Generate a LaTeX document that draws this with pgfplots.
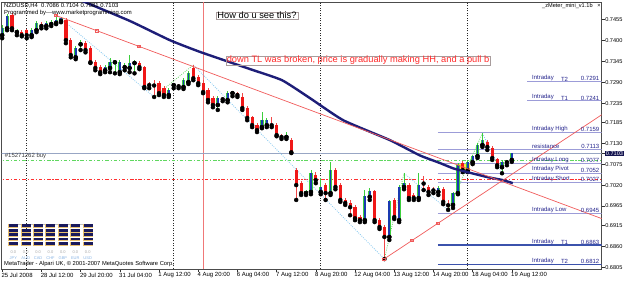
\documentclass[border=0pt]{standalone}
\usepackage{pgfplots}
\pgfplotsset{compat=1.18}
\usepackage{pgfplotstable}
\usepackage{fontspec}
\setmainfont{Liberation Sans}

\definecolor{mtnavy}{HTML}{1E1E78}
\definecolor{widgetnavy}{HTML}{1A1A5C}
\definecolor{widgetedge}{HTML}{E8C070}
\definecolor{bullbody}{HTML}{1A3AB0}
\definecolor{bullwick}{HTML}{3CCF3C}
\definecolor{bearbody}{HTML}{F01818}
\definecolor{bearwick}{HTML}{F04848}
\definecolor{lvl}{HTML}{9C9CD8}
\definecolor{lvldark}{HTML}{3B52AC}
\definecolor{lvltext}{HTML}{24248C}
\definecolor{bidline}{HTML}{98A6C4}
\definecolor{ordergreen}{HTML}{60D860}
\definecolor{stopred}{HTML}{FF3030}
\definecolor{zzblue}{HTML}{8CCBF0}
\definecolor{zzgreen}{HTML}{70D870}
\definecolor{tlred}{HTML}{F05A5A}
\definecolor{vred}{HTML}{F07878}
\definecolor{boxgray}{HTML}{A89C9C}
\definecolor{hlbg}{HTML}{141450}
\definecolor{txtred}{HTML}{FF2A2A}
\definecolor{rectyellow}{HTML}{FFE640}
\definecolor{codeblue}{HTML}{88B4E4}

% bullish candles: bar index, open, high, low, close
\pgfplotstableread{
i o h l c
0 0.7413 0.7439 0.7405 0.7431
1 0.7431 0.7468 0.7426 0.7463
3 0.7421 0.7429 0.7413 0.7422
6 0.7413 0.7431 0.7408 0.7426
7 0.7426 0.7450 0.7421 0.7445
9 0.7437 0.7450 0.7431 0.7445
10 0.7442 0.7452 0.7437 0.7447
11 0.7445 0.7466 0.7442 0.7452
12 0.7450 0.7460 0.7447 0.7458
15 0.7355 0.7384 0.7350 0.7379
16 0.7389 0.7400 0.7374 0.7390
21 0.7321 0.7335 0.7316 0.7329
22 0.7327 0.7353 0.7316 0.7342
23 0.7342 0.7348 0.7313 0.7343
24 0.7316 0.7348 0.7311 0.7342
25 0.7329 0.7340 0.7321 0.7330
26 0.7327 0.7361 0.7316 0.7340
27 0.7340 0.7348 0.7313 0.7341
34 0.7256 0.7274 0.7251 0.7269
35 0.7282 0.7287 0.7274 0.7283
37 0.7277 0.7300 0.7272 0.7295
38 0.7290 0.7319 0.7285 0.7313
44 0.7230 0.7253 0.7217 0.7248
46 0.7243 0.7266 0.7237 0.7261
47 0.7261 0.7266 0.7253 0.7262
53 0.7172 0.7211 0.7169 0.7190
54 0.7177 0.7196 0.7172 0.7190
58 0.7146 0.7159 0.7141 0.7147
62 0.6999 0.7007 0.6994 0.7002
63 0.7002 0.7059 0.6996 0.7051
65 0.7002 0.7038 0.6996 0.7015
67 0.6999 0.7080 0.6994 0.7059
74 0.6928 0.7007 0.6923 0.6989
75 0.6989 0.7012 0.6981 0.7002
79 0.6884 0.6981 0.6876 0.6976
81 0.6928 0.7020 0.6923 0.7015
82 0.7015 0.7051 0.7009 0.7025
85 0.6986 0.7051 0.6981 0.7020
89 0.7002 0.7017 0.6994 0.7012
92 0.6968 0.7002 0.6960 0.6999
93 0.6999 0.7078 0.6996 0.7072
95 0.7059 0.7086 0.7054 0.7080
96 0.7080 0.7099 0.7075 0.7096
97 0.7096 0.7130 0.7091 0.7125
98 0.7125 0.7156 0.7120 0.7138
102 0.7067 0.7086 0.7051 0.7080
104 0.7086 0.7104 0.7081 0.7103
}\bull

% bearish candles
\pgfplotstableread{
i o h l c
2 0.7466 0.7471 0.7426 0.7431
4 0.7421 0.7426 0.7410 0.7413
5 0.7426 0.7429 0.7405 0.7413
8 0.7442 0.7447 0.7431 0.7437
13 0.7452 0.7458 0.7392 0.7400
14 0.7400 0.7405 0.7355 0.7361
17 0.7392 0.7397 0.7368 0.7374
18 0.7379 0.7384 0.7340 0.7342
19 0.7342 0.7348 0.7321 0.7327
20 0.7329 0.7335 0.7311 0.7316
28 0.7340 0.7345 0.7324 0.7329
29 0.7329 0.7332 0.7274 0.7277
30 0.7283 0.7290 0.7274 0.7282
31 0.7282 0.7295 0.7251 0.7281
32 0.7287 0.7292 0.7256 0.7261
33 0.7274 0.7279 0.7251 0.7256
36 0.7280 0.7285 0.7274 0.7279
39 0.7327 0.7335 0.7295 0.7300
40 0.7303 0.7308 0.7282 0.7287
41 0.7287 0.7295 0.7261 0.7264
42 0.7269 0.7274 0.7237 0.7243
43 0.7248 0.7253 0.7224 0.7230
45 0.7246 0.7251 0.7240 0.7245
48 0.7261 0.7264 0.7251 0.7256
49 0.7251 0.7261 0.7217 0.7222
50 0.7222 0.7227 0.7190 0.7196
51 0.7196 0.7201 0.7172 0.7177
52 0.7177 0.7183 0.7159 0.7164
55 0.7178 0.7198 0.7172 0.7177
56 0.7177 0.7183 0.7148 0.7151
57 0.7147 0.7154 0.7141 0.7146
59 0.7138 0.7143 0.7104 0.7106
60 0.7059 0.7065 0.6981 0.7020
61 0.7025 0.7030 0.6994 0.6999
64 0.7046 0.7054 0.7025 0.7033
66 0.7020 0.7025 0.6981 0.6999
68 0.7059 0.7065 0.7009 0.7015
69 0.7020 0.7025 0.6976 0.6981
70 0.6981 0.6986 0.6968 0.6973
71 0.6973 0.6981 0.6941 0.6962
72 0.6962 0.6968 0.6928 0.6933
73 0.6936 0.6941 0.6923 0.6928
76 0.7002 0.7007 0.6923 0.6928
77 0.6928 0.6933 0.6905 0.6910
78 0.6910 0.6915 0.6826 0.6884
80 0.6981 0.6986 0.6931 0.6936
83 0.7020 0.7025 0.6981 0.6986
84 0.6994 0.6999 0.6981 0.6986
86 0.7026 0.7044 0.7007 0.7024
87 0.7015 0.7020 0.6994 0.7002
88 0.7008 0.7015 0.6999 0.7006
90 0.7009 0.7015 0.6970 0.6976
91 0.6969 0.6981 0.6955 0.6967
94 0.7078 0.7083 0.7054 0.7059
99 0.7133 0.7138 0.7112 0.7120
100 0.7117 0.7122 0.7086 0.7091
101 0.7086 0.7091 0.7067 0.7072
103 0.7081 0.7086 0.7072 0.7080
}\bear

\tikzset{lbl/.style={font=\fontsize{6}{7}\selectfont, text=lvltext, inner sep=0.5pt}}

\begin{document}
\begin{tikzpicture}
\begin{axis}[
  scale only axis, width=600pt, height=267pt,
  xmin=-0.143, xmax=122.3, ymin=0.6800, ymax=0.7500,
  clip mode=individual,
  unbounded coords=jump,
  axis line style={draw=black!70, line width=0.8pt},
  xtick pos=left, ytick pos=right, yticklabel pos=right,
  tick align=outside, major tick length=3pt,
  tick style={draw=black!80, line width=0.6pt},
  minor tick num=0,
  xtick={0,8,16,24,32,40,48,56,64,72,80,88,96,104},
  xticklabels={25 Jul 2008,28 Jul 12:00,29 Jul 20:00,31 Jul 04:00,1 Aug 12:00,4 Aug 20:00,6 Aug 04:00,7 Aug 12:00,8 Aug 20:00,12 Aug 04:00,13 Aug 12:00,14 Aug 20:00,18 Aug 04:00,19 Aug 12:00},
  x tick label style={anchor=north west, inner sep=0pt, xshift=-0.8pt, yshift=-0.5pt, font=\fontsize{6}{7}\selectfont},
  ytick={0.7455,0.7400,0.7345,0.7290,0.7235,0.7185,0.7130,0.7075,0.7020,0.6965,0.6915,0.6860,0.6805},
  yticklabels={0.7455,0.7400,0.7345,0.7290,0.7235,0.7185,0.7130,0.7075,0.7020,0.6965,0.6915,0.6860,0.6805},
  y tick label style={anchor=west, inner sep=0.6pt, font=\fontsize{5.6}{6.5}\selectfont},
  extra y ticks={0.7103}, extra y tick labels={0.7103},
  extra y tick style={y tick label style={fill=hlbg, text=white, inner xsep=1.2pt, inner ysep=0.8pt}},
]
% yellow rectangle object
\addplot[fill=rectyellow, draw=none, forget plot] coordinates {(92.8,0.7054) (95.4,0.7054) (95.4,0.7078) (92.8,0.7078)} -- cycle;

% weekly separators
\addplot[draw=black!85, line width=0.6pt, dash pattern=on 1.2pt off 1.3pt, forget plot] coordinates {(5,0.68) (5,0.75) (5,nan) (35,0.68) (35,0.75) (35,nan) (65,0.68) (65,0.75) (65,nan) (95,0.68) (95,0.75)};
% red vertical line
\addplot[draw=vred, line width=0.8pt, forget plot] coordinates {(41,0.68) (41,0.75)};

% bid line, order line, stop line
\addplot[draw=bidline, line width=0.7pt, forget plot] coordinates {(-1,0.7103) (123,0.7103)};
\addplot[draw=ordergreen, line width=0.9pt, dash pattern=on 3.5pt off 1.8pt on 1.2pt off 1.8pt, forget plot] coordinates {(-1,0.7085) (123,0.7085)};
\addplot[draw=stopred, line width=0.9pt, dash pattern=on 3.5pt off 1.8pt on 1.2pt off 1.8pt, forget plot] coordinates {(-1,0.7034) (123,0.7034)};

% intraday levels
\addplot[draw=lvl, line width=0.7pt, forget plot] coordinates {
(107.1,0.7291) (123,0.7291) (0,nan)
(107.1,0.7241) (123,0.7241) (0,nan)
(88.9,0.7159) (123,0.7159) (0,nan)
(88.9,0.7113) (123,0.7113) (0,nan)
(88.9,0.7077) (123,0.7077) (0,nan)
(88.9,0.7052) (123,0.7052) (0,nan)
(88.9,0.7027) (123,0.7027) (0,nan)
(88.9,0.6945) (123,0.6945)};
\addplot[draw=lvldark, line width=1.2pt, forget plot] coordinates {
(88.9,0.6863) (123,0.6863) (0,nan)
(88.9,0.6812) (123,0.6812)};

% zigzag legs
\addplot[draw=zzblue, line width=0.8pt, dash pattern=on 0.9pt off 1.3pt, forget plot] coordinates {(11.2,0.7465) (31,0.7251) (31,nan) (39,0.7335) (78,0.6826) (78,nan) (82,0.7051) (91,0.6955) (91,nan) (98,0.7156) (102,0.7051)};
\addplot[draw=zzgreen, line width=0.8pt, dash pattern=on 0.9pt off 1.3pt, forget plot] coordinates {(31,0.7251) (39,0.7335) (39,nan) (78,0.6826) (82,0.7051) (82,nan) (91,0.6955) (98,0.7156)};

% candles: wicks
\addplot[only marks, mark=none, forget plot, error bars/.cd, y dir=plus, y explicit, error mark=none,
  error bar style={draw=bullwick, line width=0.8pt}]
  table[x=i, y=l, y error plus expr=\thisrow{h}-\thisrow{l}] {\bull};
\addplot[only marks, mark=none, forget plot, error bars/.cd, y dir=plus, y explicit, error mark=none,
  error bar style={draw=bearwick, line width=0.8pt}]
  table[x=i, y=l, y error plus expr=\thisrow{h}-\thisrow{l}] {\bear};
% candles: bodies
\addplot[only marks, mark=none, forget plot, error bars/.cd, y dir=plus, y explicit, error mark=none,
  error bar style={draw=bullwick, line width=3.2pt}]
  table[x=i, y=o, y error plus expr=\thisrow{c}-\thisrow{o}+0.00012] {\bull};
\addplot[only marks, mark=none, forget plot, error bars/.cd, y dir=plus, y explicit, error mark=none,
  error bar style={draw=bullbody, line width=1.8pt}]
  table[x=i, y=o, y error plus expr=\thisrow{c}-\thisrow{o}+0.00012] {\bull};
\addplot[only marks, mark=none, forget plot, error bars/.cd, y dir=plus, y explicit, error mark=none,
  error bar style={draw=bearbody, line width=3.2pt}]
  table[x=i, y=c, y error plus expr=\thisrow{o}-\thisrow{c}+0.00012] {\bear};

% moving average
\addplot[draw=mtnavy, line width=2.4pt, smooth, tension=0.3, forget plot] coordinates {
(12.0,0.7525) (15.9,0.7505) (26.1,0.7450) (34.2,0.7400) (40.4,0.7369) (50.6,0.7324) (57.1,0.7295)
(62.8,0.7248) (69.6,0.7190) (79.1,0.7138) (85.2,0.7098) (89.3,0.7078) (92.0,0.7064)
(94.9,0.7054) (99.0,0.7041) (102.2,0.7033) (104.2,0.7025)};

% trend lines
\addplot[draw=tlred, line width=0.7pt, forget plot] coordinates {(10.9,0.7465) (123,0.6929)};
\addplot[draw=tlred, line width=0.7pt, forget plot] coordinates {(77.9,0.6826) (123,0.7210)};
\addplot[draw=tlred, only marks, mark=square, mark size=1.2pt, mark options={draw=tlred, fill=white, line width=0.5pt}, forget plot]
  coordinates {(10.9,0.7465) (19.3,0.7425) (27.9,0.7384) (77.9,0.6826) (83.6,0.6875) (88.9,0.6920)};

% level captions
\node[lbl, anchor=south west] at (108,0.7291) {Intraday};
\node[lbl, anchor=south west] at (113.9,0.7291) {T2};
\node[lbl, anchor=south east] at (122,0.7291) {0.7291};
\node[lbl, anchor=south west] at (108,0.7241) {Intraday};
\node[lbl, anchor=south west] at (113.9,0.7241) {T1};
\node[lbl, anchor=south east] at (122,0.7241) {0.7241};
\node[lbl, anchor=south west] at (108,0.7159) {Intraday High};
\node[lbl, anchor=south east] at (122,0.7159) {0.7159};
\node[lbl, anchor=south west] at (108,0.7113) {resistance};
\node[lbl, anchor=south east] at (122,0.7113) {0.7113};
\node[lbl, anchor=south west] at (108,0.7077) {Intraday Long};
\node[lbl, anchor=south east] at (122,0.7077) {0.7077};
\node[lbl, anchor=south west] at (108,0.7052) {Intraday Pivot};
\node[lbl, anchor=south east] at (122,0.7052) {0.7052};
\node[lbl, anchor=south west] at (108,0.7027) {Intraday Short};
\node[lbl, anchor=south east] at (122,0.7027) {0.7027};
\node[lbl, anchor=south west] at (108,0.6945) {Intraday Low};
\node[lbl, anchor=south east] at (122,0.6945) {0.6945};
\node[lbl, anchor=south west] at (108,0.6863) {Intraday};
\node[lbl, anchor=south west] at (113.9,0.6863) {T1};
\node[lbl, anchor=south east] at (122,0.6863) {0.6863};
\node[lbl, anchor=south west] at (108,0.6812) {Intraday};
\node[lbl, anchor=south west] at (113.9,0.6812) {T2};
\node[lbl, anchor=south east] at (122,0.6812) {0.6812};
\node[font=\fontsize{6}{7}\selectfont, text=black!75, inner sep=0.5pt, anchor=south west] at (0.4,0.7086) {\#15271262 buy};
\end{axis}

% chart window texts (picture coordinates, points)
\node[anchor=west, inner sep=0, font=\fontsize{5.9}{7}\selectfont] at (2.5pt,263.5pt) {NZDUSD,H4\ \ 0.7086 0.7104 0.7081 0.7103};
\node[anchor=west, inner sep=0, font=\fontsize{5.9}{7}\selectfont] at (2.5pt,256pt) {Programmed by-{}-{}-www.marketprogramming.com};
\node[anchor=west, inner sep=0, font=\fontsize{5.6}{7}\selectfont] at (540.5pt,263pt) {\_zMeter\_mini\_v1.1b\ \ \ ×};
\node[anchor=west, inner sep=0, font=\fontsize{5.8}{7}\selectfont] at (2.5pt,4.8pt) {MetaTrader - Alpari UK, © 2001-2007 MetaQuotes Software Corp.};
\node[draw=boxgray, line width=0.5pt, inner xsep=1.5pt, inner ysep=0.3pt, font=\fontsize{9.3}{10}\selectfont] at (255.5pt,253.5pt) {How do u see this?};
\node[draw=boxgray, line width=0.5pt, inner xsep=0.5pt, inner ysep=0.3pt, anchor=west, text=txtred, font=\fontsize{9.3}{10}\selectfont] at (224.5pt,208.5pt) {down TL was broken, price is gradually making HH, and a pull b};

% currency strength widget
\draw[black!25, line width=0.4pt] (6.5pt,45pt) -- (91.8pt,45pt);
\foreach \cx/\cc in {6.8/JPY,19.2/AUD,31.6/CAD,44.0/CHF,56.4/GBP,68.8/EUR,81.2/USD} {
  \foreach \ry in {24.0,28.4,32.8,37.2,41.6} {
    \fill[widgetnavy] (\cx pt,\ry pt) rectangle ++(10pt,3.0pt);
    \draw[widgetedge, line width=0.25pt] (\cx pt,\ry pt+3pt) -- (\cx pt,\ry pt) -- ++(10pt,0pt);
  }
  \node[font=\fontsize{4}{4}\selectfont, text=black!35, inner sep=0] at (\cx pt+5pt,17.3pt) {0.0};
  \node[font=\fontsize{4}{4}\selectfont, text=codeblue, inner sep=0] at (\cx pt+5pt,11pt) {\cc};
}

\pgfresetboundingbox
\path (-1.5pt,-12pt) rectangle (623.5pt,269pt);
\end{tikzpicture}
\end{document}
